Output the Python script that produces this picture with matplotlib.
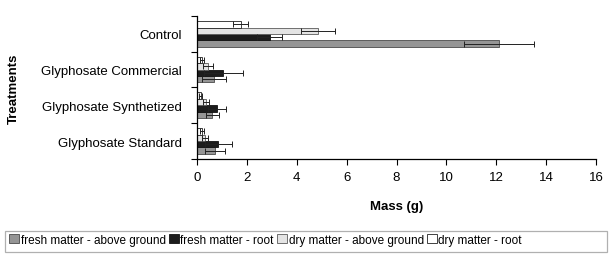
import matplotlib
matplotlib.use("Agg")
import matplotlib.pyplot as plt
import numpy as np
from matplotlib.patches import Rectangle

plt.rcParams['font.family'] = ['Liberation Sans', 'DejaVu Sans']

categories = ["Glyphosate Standard", "Glyphosate Synthetized", "Glyphosate Commercial", "Control"]
series_names = ["fresh matter - above ground", "fresh matter - root",
                "dry matter - above ground", "dry matter - root"]
fresh_above = [0.72, 0.62, 0.68, 12.1]
fresh_above_err = [0.40, 0.26, 0.48, 1.4]
fresh_root = [0.85, 0.80, 1.05, 2.92]
fresh_root_err = [0.54, 0.36, 0.78, 0.5]
dry_above = [0.30, 0.35, 0.45, 4.85]
dry_above_err = [0.12, 0.12, 0.20, 0.7]
dry_root = [0.20, 0.15, 0.18, 1.75]
dry_root_err = [0.08, 0.06, 0.08, 0.3]
xticks = [0, 2, 4, 6, 8, 10, 12, 14, 16]

fig = plt.figure(figsize=(6.1, 2.55), dpi=100)
ax = fig.add_axes([0.323, 0.373, 0.654, 0.56])

y = np.arange(len(categories))
h = 0.18
values = [fresh_above, fresh_root, dry_above, dry_root]
errs = [fresh_above_err, fresh_root_err, dry_above_err, dry_root_err]
faces = ['#959595', '#1c1c1c', '#e4e4e4', '#ffffff']
edges = ['#4a4a4a', '#111111', '#5a5a5a', '#222222']
offsets = [-1.5, -0.5, 0.5, 1.5]
handles = []
for v, e, fc, ec, off, name in zip(values, errs, faces, edges, offsets, series_names):
    b = ax.barh(y + off * h, v, height=h, color=fc, edgecolor=ec, linewidth=0.6,
                xerr=e, error_kw=dict(ecolor='#222222', elinewidth=0.7, capsize=2.2, capthick=0.7),
                label=name)
    handles.append(b)

ax.set_xlim(0, 16)
ax.set_ylim(-0.5, 3.5)
ax.set_xticks(xticks)
ax.set_xticklabels([str(t) for t in xticks], fontsize=9.5)
ax.set_yticks(y)
ax.set_yticklabels(categories, fontsize=9.5)
ax.tick_params(axis='y', length=0, pad=11)
ax.set_yticks(np.arange(-0.5, 4.0, 1.0), minor=True)
ax.tick_params(axis='y', which='minor', length=4, width=0.8, direction='out')
ax.tick_params(axis='x', length=4, width=0.8, direction='out', pad=5)
for s in ['top', 'right']:
    ax.spines[s].set_visible(False)
ax.spines['left'].set_linewidth(0.9)
ax.spines['bottom'].set_linewidth(0.9)
ax.set_xlabel("Mass (g)", fontsize=9.5, fontweight='bold', labelpad=12)
ax.set_ylabel("Treatments", fontsize=9.5, fontweight='bold')
ax.yaxis.set_label_coords(-0.445, 0.5)

# legend
leg = fig.legend(handles=handles, labels=series_names, loc='lower left',
                 bbox_to_anchor=(0.002, 0.0), ncol=4, frameon=False, fontsize=8.5,
                 handlelength=0.8, handleheight=0.8, handletextpad=0.15, columnspacing=0.3,
                 borderaxespad=0.3)
fig.patches.append(Rectangle((0.008, 0.008), 0.987, 0.082, transform=fig.transFigure,
                             fill=False, edgecolor='#b0b0b0', linewidth=0.9))

fig.savefig("out.png", dpi=100)
